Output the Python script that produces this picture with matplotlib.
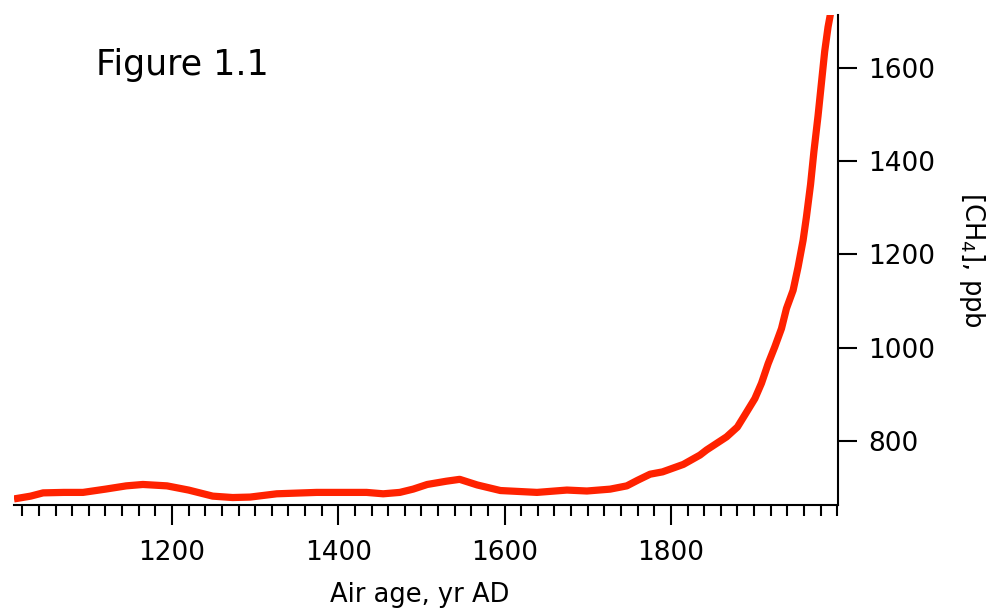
import matplotlib
matplotlib.use("Agg")
import matplotlib.pyplot as plt
from matplotlib.ticker import MultipleLocator

years = [1010, 1030, 1045, 1070, 1093, 1120, 1145, 1165, 1194, 1220, 1249, 1273,
         1294, 1326, 1374, 1434, 1454, 1474, 1490, 1507, 1530, 1546, 1567, 1595,
         1639, 1675, 1699, 1727, 1747, 1760, 1775, 1790, 1815, 1835, 1843, 1867,
         1880, 1889, 1901, 1909, 1917, 1925, 1933, 1939, 1947, 1953, 1959, 1963,
         1968, 1972, 1977, 1981, 1985, 1989, 1992]
ch4 = [676, 682, 689, 690, 690, 697, 704, 707, 704, 695, 682, 679,
       680, 687, 690, 690, 687, 690, 697, 707, 714, 718, 706, 694,
       690, 695, 693, 697, 704, 716, 729, 734, 750, 770, 781, 809,
       830, 856, 891, 924, 966, 1002, 1041, 1084, 1123, 1173, 1230, 1280,
       1350, 1420, 1497, 1566, 1635, 1687, 1716]

x_major = [1200, 1400, 1600, 1800]
y_major = [800, 1000, 1200, 1400, 1600]

fig = plt.figure(figsize=(9.92, 6.11), dpi=100)
ax = fig.add_axes([14/992, 1-505/611, (838-14)/992, (505-15)/611])

ax.plot(years, ch4, color='#ff2200', lw=5.2, solid_capstyle='butt', solid_joinstyle='round')
ax.set_xlim(1010, 2001)
ax.set_ylim(663, 1713)

for s in ['left', 'top']:
    ax.spines[s].set_visible(False)
for s in ['bottom', 'right']:
    ax.spines[s].set_linewidth(1.5)

ax.set_xticks(x_major)
ax.xaxis.set_minor_locator(MultipleLocator(20))
ax.set_yticks(y_major)
ax.yaxis.tick_right()
ax.tick_params(axis='x', which='major', direction='out', length=14.4, width=1.5, labelsize=19, pad=11)
ax.tick_params(axis='x', which='minor', direction='out', length=8, width=1.5)
ax.tick_params(axis='y', which='major', direction='out', length=13.7, width=1.5, labelsize=19, pad=8)

fig.text(420/992, 1-595/611, 'Air age, yr AD', ha='center', va='center', fontsize=18.5)
fig.text(972/992, 1-260/611, '[CH$_4$], ppb', ha='center', va='center', fontsize=18.5, rotation=-90)
fig.text(96/992, 1-75/611, 'Figure 1.1', ha='left', va='baseline', fontsize=25)

fig.savefig('out.png', dpi=100)
